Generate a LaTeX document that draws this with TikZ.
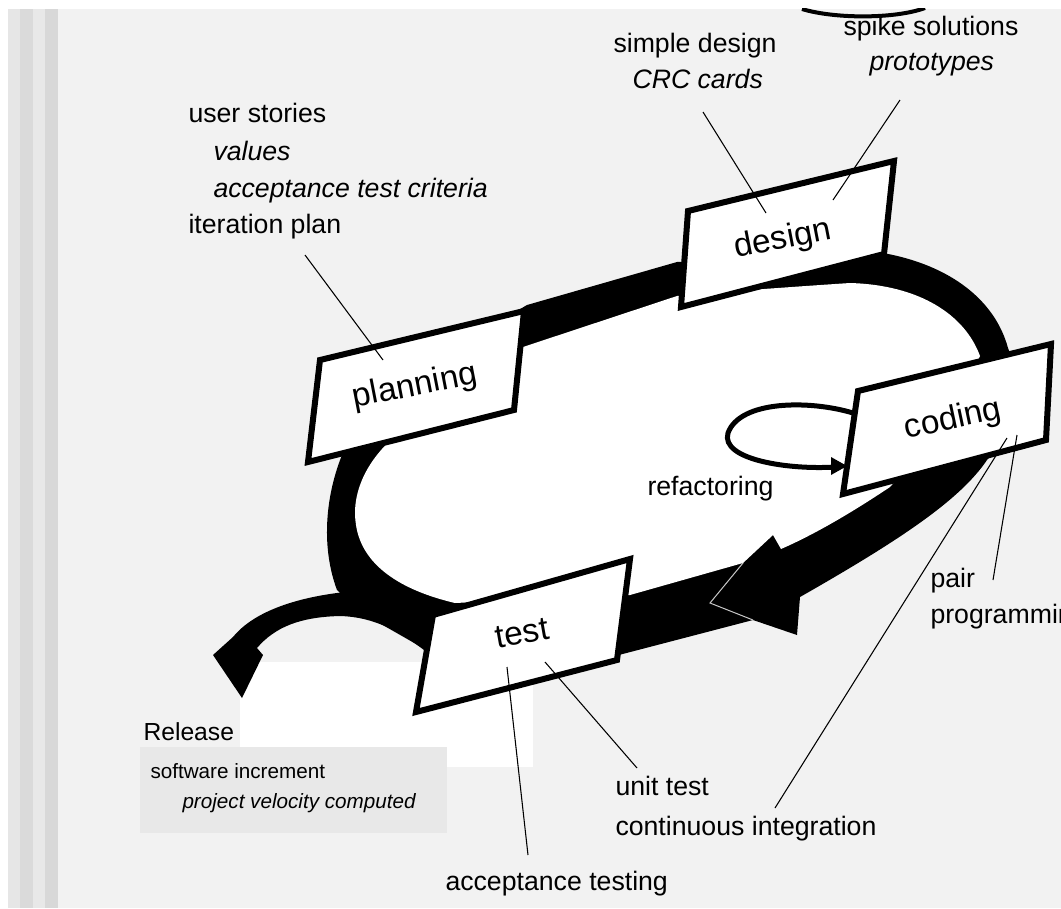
\documentclass[tikz,border=0pt]{standalone}
\usepackage{fontspec}
\setmainfont{Liberation Sans}

\tikzset{every picture/.style={line width=0.75pt}}
\tikzset{
  card/.style={draw, line width=4.5pt, fill=white, line join=miter},
  lbl/.style={anchor=base west, inner sep=0pt, font=\fontsize{20}{24}\selectfont},
  notelbl/.style={anchor=base west, inner sep=0pt, font=\fontsize{15.5}{18}\selectfont},
  boxlbl/.style={inner sep=0pt, font=\fontsize{25}{30}\selectfont},
  leader/.style={draw, line width=0.8pt}
}

\begin{document}
\begin{tikzpicture}[x=0.75pt,y=0.75pt,yscale=-1,xscale=1]
\useasboundingbox (0,0) rectangle (1061,908);
\clip (0,0) rectangle (1061,908);

%Background
\fill [white] (0,0) rectangle (1061,908);
\fill [color={rgb, 255:red, 242; green, 242; blue, 242 }] (8,9) rectangle (1061,908);
%Left stripes
\fill [color={rgb, 255:red, 230; green, 230; blue, 230 }] (8,9) rectangle (20,908);
\fill [color={rgb, 255:red, 218; green, 218; blue, 218 }] (20,9) rectangle (33,908);
\fill [color={rgb, 255:red, 232; green, 232; blue, 232 }] (33,9) rectangle (45,908);
\fill [color={rgb, 255:red, 216; green, 216; blue, 216 }] (45,9) rectangle (58,908);

%Release panel
\fill [white] (240,662) rectangle (533,767);
\fill [color={rgb, 255:red, 232; green, 232; blue, 232 }] (140,747) rectangle (447,833);

%Top arc
\draw [line width=3pt] (802,9) .. controls (835,19) and (895,19) .. (925,8);
\fill [white] (0,0) rectangle (1061,8);

%Shape: loop outer
\fill [black] (342,455) -- (400,380) -- (527,305) -- (677,262) -- (883,253) .. controls (950,265) and (995,300) .. (1008,348) .. controls (1025,390) and (1015,430) .. (987,460) .. controls (960,500) and (900,540) .. (800,597) -- (797,635) -- (753,620) -- (615,656) -- (500,665) -- (423,648) -- (360,612) -- (337,590) .. controls (322,550) and (324,500) .. (342,455) -- cycle;
%Shape: loop inner
\fill [white] (400,432) .. controls (365,460) and (351,495) .. (356,525) .. controls (362,565) and (400,590) .. (455,603) -- (520,600) -- (630,595) -- (743,563) -- (773,535) -- (781,549) .. controls (820,532) and (860,507) .. (890,487) -- (950,420) -- (980,356) .. controls (965,315) and (920,285) .. (850,283) .. controls (790,287) and (720,292) .. (677,296) -- (523,347) -- (450,395) -- cycle;
%Shape: release arrow
\fill [black] (345,592) .. controls (300,597) and (255,610) .. (233,637) -- (213,655) -- (242,698) -- (263,655) -- (257,648) .. controls (275,627) and (300,617) .. (340,616) .. controls (375,617) and (400,632) .. (424,650) -- (432,612) -- (380,588) -- cycle;
%Arrowhead outline
\draw [color={rgb, 255:red, 200; green, 200; blue, 200 }] (743,563) -- (710,603) -- (753,620);

%Curve Lines: refactoring
\draw [line width=3.75pt] (853,413) .. controls (810,400) and (740,400) .. (728,433) .. controls (720,460) and (790,470) .. (835,467);
\draw [shift={(847,466)}, rotate = 180] [fill={rgb, 255:red, 0; green, 0; blue, 0 }][line width=0.08] [draw opacity=0] (16,-9) -- (0,0) -- (16,9) -- cycle;

%Shape: cards
\draw [card] (320,360) -- (524,311) -- (514,410) -- (308,462) -- cycle;
\draw [card] (688,211) -- (894,161) -- (884,254) -- (681,307) -- cycle;
\draw [card] (858,391) -- (1051,344) -- (1046,440) -- (843,494) -- cycle;
\draw [card] (433,615) -- (630,559) -- (617,660) -- (416,712) -- cycle;

% Card Nodes
\node [boxlbl, rotate=11] (planning) at (415,387) {planning};
\node [boxlbl, rotate=11] (design) at (783,240) {design};
\node [boxlbl, rotate=12] (coding) at (953,420) {coding};
\node [boxlbl, rotate=10] (test) at (522,633) {test};

% Text Node
\node [lbl] (stories) at (188,122) {user stories};
\node [lbl] (values) at (213,160) {\textit{values}};
\node [lbl] (criteria) at (213,197) {\textit{acceptance test criteria}};
\node [lbl] (iterplan) at (188,233) {iteration plan};
% Text Node
\node [lbl] (simpledesign) at (613,52) {simple design};
\node [lbl] (crccards) at (632,88) {\textit{CRC cards}};
% Text Node
\node [lbl] (spike) at (843,35) {spike solutions};
\node [lbl] (prototypes) at (869,70) {\textit{prototypes}};
% Text Node
\node [lbl] (refactoring) at (647,495) {refactoring};
% Text Node
\node [lbl] (pair) at (930,587) {pair};
\node [lbl] (pairprog) at (930,623) {programming};
% Text Node
\node [lbl] (unittest) at (615,795) {unit test};
\node [lbl] (contint) at (615,835) {continuous integration};
% Text Node
\node [lbl] (acctesting) at (445,890) {acceptance testing};
% Text Node
\node [lbl, font=\fontsize{18.5}{22}\selectfont] (release) at (143,740) {Release};
\node [notelbl] (increment) at (150,778) {software increment};
\node [notelbl] (velocity) at (182,808) {\textit{project velocity computed}};

%Straight Lines: leaders
\coordinate (plantail) at (305,255);  \coordinate (planpin) at (383,360);
\coordinate (simpletail) at (703,112); \coordinate (simplepin) at (766,213);
\coordinate (spiketail) at (900,100); \coordinate (spikepin) at (833,200);
\coordinate (pairtail) at (993,580);  \coordinate (pairpin) at (1017,435);
\coordinate (conttail) at (775,808);  \coordinate (contpin) at (1007,438);
\coordinate (unittail) at (637,768);  \coordinate (unitpin) at (545,662);
\coordinate (acctail) at (528,855);   \coordinate (accpin) at (507,667);
\draw [leader] (plantail) -- (planpin);
\draw [leader] (simpletail) -- (simplepin);
\draw [leader] (spiketail) -- (spikepin);
\draw [leader] (pairtail) -- (pairpin);
\draw [leader] (conttail) -- (contpin);
\draw [leader] (unittail) -- (unitpin);
\draw [leader] (acctail) -- (accpin);

\end{tikzpicture}
\end{document}
